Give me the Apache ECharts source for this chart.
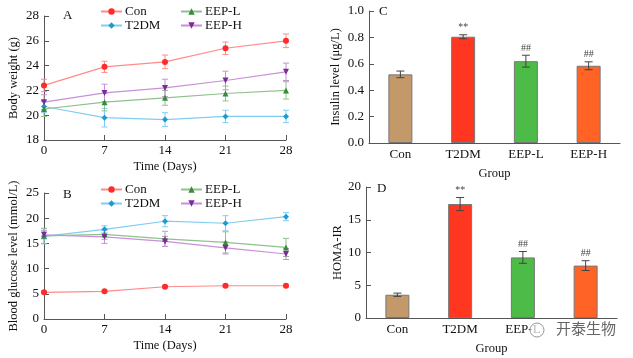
<!DOCTYPE html>
<html><head><meta charset="utf-8">
<script src="https://cdn.jsdelivr.net/npm/echarts@6/dist/echarts.min.js"></script>
<style>html,body{margin:0;padding:0;background:#fff}#c{width:633px;height:358px}</style>
</head><body><div id="c"></div>
<script>
// ---- data ----
const days = [0, 7, 14, 21, 28];
const seriesNames = ['Con', 'T2DM', 'EEP-L', 'EEP-H'];
// Body weight (g)
const bwCon = [22.4, 23.9, 24.3, 25.4, 26.0];
const bwConErr = [0.5, 0.45, 0.55, 0.5, 0.55];
const bwT2DM = [20.7, 19.8, 19.65, 19.9, 19.9];
const bwT2DMErr = [0.5, 0.75, 0.55, 0.5, 0.5];
const bwEEPL = [20.5, 21.05, 21.4, 21.75, 22.0];
const bwEEPLErr = [0.6, 0.7, 0.6, 0.6, 0.7];
const bwEEPH = [21.05, 21.8, 22.2, 22.8, 23.5];
const bwEEPHErr = [0.6, 0.7, 0.7, 0.75, 0.7];
// Blood glucose (mmol/L)
const gCon = [5.3, 5.5, 6.4, 6.6, 6.6];
const gConErr = [0.2, 0.2, 0.2, 0.2, 0.2];
const gT2DM = [16.4, 17.8, 19.4, 19.0, 20.3];
const gT2DMErr = [1.5, 0.7, 1.1, 1.5, 0.8];
const gEEPL = [16.5, 16.8, 15.9, 15.2, 14.2];
const gEEPLErr = [1.5, 1.0, 1.5, 2.1, 1.8];
const gEEPH = [16.7, 16.3, 15.4, 14.1, 12.9];
const gEEPHErr = [0.8, 1.3, 1.0, 1.2, 1.1];
// Bars
const groups = ['Con', 'T2DM', 'EEP-L', 'EEP-H'];
const insulin = [0.52, 0.805, 0.62, 0.585];
const insulinErr = [0.025, 0.015, 0.045, 0.03];
const homa = [3.55, 17.4, 9.25, 8.0];
const homaErr = [0.25, 1.0, 0.9, 0.75];
const signs = ['', '**', '##', '##'];

// ---- styles ----
const FONT = 'Liberation Serif';
const markerColors = ['#ff2a2a', '#1a9bd7', '#3a8a3a', '#7b2a9a'];
const lineColors = ['#ff8a8a', '#80cdef', '#90c090', '#c890d8'];
const symbols = ['circle', 'diamond', 'triangle', 'path://M0,0 L10,0 L5,9 Z'];
const barColors = ['#c4996a', '#ff3620', '#4cbb47', '#ff6326'];
const axisColor = '#555';

function errRender(color, signArr, capW) {
  return function (params, api) {
    const x = api.value(0), y = api.value(1), e = api.value(2);
    const t = api.coord([x, y + e]);
    const b = api.coord([x, y - e]);
    const st = { stroke: color, lineWidth: 1 };
    const ch = [
      { type: 'line', shape: { x1: t[0], y1: t[1], x2: b[0], y2: b[1] }, style: st },
      { type: 'line', shape: { x1: t[0] - capW, y1: t[1], x2: t[0] + capW, y2: t[1] }, style: st },
      { type: 'line', shape: { x1: b[0] - capW, y1: b[1], x2: b[0] + capW, y2: b[1] }, style: st }
    ];
    if (signArr && signArr[params.dataIndex]) {
      ch.push({ type: 'text', x: t[0], y: t[1] - 2, style: { text: signArr[params.dataIndex], align: 'center', verticalAlign: 'bottom', fontSize: 10, fontFamily: FONT, fill: '#444' } });
    }
    return { type: 'group', children: ch };
  };
}

function lineAndErr(idx, gi, vals, errs) {
  return [
    { name: seriesNames[idx], type: 'line', xAxisIndex: gi, yAxisIndex: gi,
      data: days.map((d, i) => [d, vals[i]]), symbol: symbols[idx], symbolSize: 6,
      lineStyle: { color: lineColors[idx], width: 1.2 }, itemStyle: { color: markerColors[idx] }, z: 5 },
    { type: 'custom', xAxisIndex: gi, yAxisIndex: gi, renderItem: errRender(lineColors[idx], null, 3),
      data: days.map((d, i) => [d, vals[i], errs[i]]), z: 4 }
  ];
}

const tickText = { color: '#111', fontFamily: FONT, fontSize: 13 };
const nameText = { color: '#111', fontFamily: FONT, fontSize: 12.5 };

function valAxisX(gi) {
  return { type: 'value', gridIndex: gi, min: 0, max: 28, interval: 7, name: 'Time (Days)', nameLocation: 'middle', nameGap: 20,
    nameTextStyle: nameText, axisLabel: Object.assign({ margin: 4 }, tickText), splitLine: { show: false },
    axisLine: { lineStyle: { color: axisColor } }, axisTick: { inside: true, length: 5, lineStyle: { color: axisColor } } };
}
function valAxisY(gi, min, max, interval, name, gap, fmt) {
  return { type: 'value', gridIndex: gi, min: min, max: max, interval: interval, name: name, nameLocation: 'middle', nameGap: gap,
    nameTextStyle: nameText, axisLabel: Object.assign({ margin: 5, formatter: fmt }, tickText), splitLine: { show: false },
    axisLine: { show: true, lineStyle: { color: axisColor } }, axisTick: { show: true, inside: true, length: 5, lineStyle: { color: axisColor } } };
}
function catAxis(gi) {
  return { type: 'category', gridIndex: gi, data: groups, name: 'Group', nameLocation: 'middle', nameGap: 24,
    nameTextStyle: nameText, axisLabel: Object.assign({ margin: 5, interval: 0 }, tickText),
    axisLine: { lineStyle: { color: axisColor } }, axisTick: { inside: true, length: 5, lineStyle: { color: axisColor } } };
}

const series = [];
const bw = [[bwCon, bwConErr], [bwT2DM, bwT2DMErr], [bwEEPL, bwEEPLErr], [bwEEPH, bwEEPHErr]];
const gl = [[gCon, gConErr], [gT2DM, gT2DMErr], [gEEPL, gEEPLErr], [gEEPH, gEEPHErr]];
bw.forEach((p, i) => series.push(...lineAndErr(i, 0, p[0], p[1])));
gl.forEach((p, i) => series.push(...lineAndErr(i, 1, p[0], p[1])));

function barSeries(gi, vals, errs) {
  return [
    { type: 'bar', xAxisIndex: gi, yAxisIndex: gi, barWidth: 24,
      data: vals.map((v, i) => ({ value: v, itemStyle: { color: barColors[i], borderColor: '#777', borderWidth: 1 } })), z: 2 },
    { type: 'custom', xAxisIndex: gi, yAxisIndex: gi, renderItem: errRender('#444', signs, 4),
      data: vals.map((v, i) => [i, v, errs[i]]), z: 6 }
  ];
}
series.push(...barSeries(2, insulin, insulinErr));
series.push(...barSeries(3, homa, homaErr));

const legendBase = { orient: 'vertical', itemWidth: 21, itemHeight: 8, itemGap: 1, textStyle: { fontFamily: FONT, fontSize: 13, color: '#111', padding: [0, 0, 0, -2] }, padding: 0 };

const option = {
  animation: false,
  backgroundColor: '#fff',
  grid: [
    { left: 44, top: 16, width: 242, height: 124 },
    { left: 44, top: 193, width: 242, height: 126 },
    { left: 369, top: 11, width: 251, height: 132 },
    { left: 366, top: 187, width: 251, height: 131 }
  ],
  xAxis: [valAxisX(0), valAxisX(1), catAxis(2), catAxis(3)],
  yAxis: [
    valAxisY(0, 18, 28, 2, 'Body weight (g)', 24),
    valAxisY(1, 0, 25, 5, 'Blood glucose level (mmol/L)', 24),
    valAxisY(2, 0, 1, 0.2, 'Insulin level (μg/L)', 27, v => v.toFixed(1)),
    valAxisY(3, 0, 20, 5, 'HOMA-IR', 22)
  ],
  legend: [
    Object.assign({ left: 100, top: 5, data: ['Con', 'T2DM'] }, legendBase),
    Object.assign({ left: 180, top: 5, data: ['EEP-L', 'EEP-H'] }, legendBase),
    Object.assign({ left: 100, top: 183, data: ['Con', 'T2DM'] }, legendBase),
    Object.assign({ left: 180, top: 183, data: ['EEP-L', 'EEP-H'] }, legendBase)
  ],
  graphic: [
    { type: 'text', left: 63, top: 9, style: { text: 'A', fontFamily: FONT, fontSize: 13, fill: '#111' } },
    { type: 'text', left: 63, top: 188, style: { text: 'B', fontFamily: FONT, fontSize: 13, fill: '#111' } },
    { type: 'text', left: 379, top: 5, style: { text: 'C', fontFamily: FONT, fontSize: 13, fill: '#111' } },
    { type: 'text', left: 377, top: 182, style: { text: 'D', fontFamily: FONT, fontSize: 13, fill: '#111' } },
    { type: 'circle', shape: { cx: 537, cy: 330, r: 7 }, style: { fill: 'rgba(255,255,255,0.7)', stroke: '#999', lineWidth: 1 }, z: 100 },
    { type: 'text', left: 553, top: 320, z: 100, style: { text: '开泰生物', fontFamily: 'Noto Sans CJK SC', fontSize: 15, fill: '#666', backgroundColor: '#fff', padding: [1, 3] } }
  ],
  series: series
};
echarts.init(document.getElementById('c')).setOption(option);
</script></body></html>
